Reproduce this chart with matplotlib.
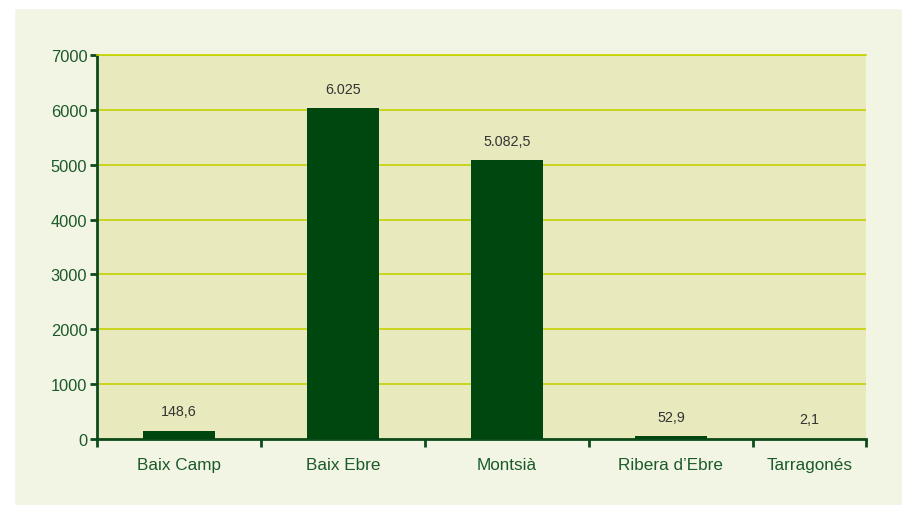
import matplotlib
matplotlib.use('Agg')
import matplotlib.pyplot as plt
from matplotlib.patches import Rectangle

# Data
comarques = ['Baix Camp', 'Baix Ebre', 'Montsià', "Ribera d’Ebre", 'Tarragonés']
valors = [148.6, 6025, 5082.5, 52.9, 2.1]
etiquetes = ['148,6', '6.025', '5.082,5', '52,9', '2,1']
yticks = [0, 1000, 2000, 3000, 4000, 5000, 6000, 7000]

plt.rcParams['font.family'] = ['Liberation Sans', 'DejaVu Sans']

green = '#00460f'
axis_green = '#0d4a1c'
text_green = '#1b5a2a'
grid_col = '#c5d200'

fig = plt.figure(figsize=(9.03, 5.06), dpi=100)
fig.patch.set_facecolor('#f3f5e4')
# white strips on left and top edges
fig.patches.append(Rectangle((0, 0), 14 / 903, 1, transform=fig.transFigure, color='white', zorder=0))
fig.patches.append(Rectangle((0, 1 - 9 / 506), 1, 9 / 506, transform=fig.transFigure, color='white', zorder=0))

ax = fig.add_axes([97 / 903, 1 - 440 / 506, (866 - 97) / 903, 384 / 506])
ax.set_facecolor('#e8e9bd')

x = list(range(len(comarques)))
ax.bar(x, valors, width=0.44, color=green, zorder=3)

right = 4.19
ax.set_xlim(-0.5, right)
ax.set_ylim(0, 7000)

# value labels
for xi, v, lab in zip(x, valors, etiquetes):
    xl = xi if xi < len(comarques) - 1 else (xi - 0.5 + right) / 2
    ax.annotate(lab, (xl, v), xytext=(0, 9), textcoords='offset points',
                ha='center', va='bottom', fontsize=10.3, color='#333333')

# grid
ax.set_yticks(yticks)
ax.yaxis.grid(True, color=grid_col, linewidth=1.2, zorder=1)
ax.set_axisbelow(True)

# x ticks on boundaries, labels centered
bounds = [i - 0.5 for i in x] + [right]
ax.set_xticks(bounds)
ax.set_xticklabels([])
centers = x[:-1] + [(x[-1] - 0.5 + right) / 2]
ax.set_xticks(centers, minor=True)
ax.set_xticklabels(comarques, minor=True)
ax.tick_params(axis='x', which='major', direction='out', length=6, width=2, color=axis_green)
ax.tick_params(axis='x', which='minor', length=0, pad=13, labelsize=12.3, labelcolor=text_green)
ax.tick_params(axis='y', direction='out', length=5, width=2, color=axis_green,
               labelsize=11.8, labelcolor=text_green, pad=2)

ax.spines['right'].set_visible(False)
ax.spines['top'].set_color(grid_col)
ax.spines['top'].set_linewidth(1.2)
for s in ['left', 'bottom']:
    ax.spines[s].set_color(axis_green)
    ax.spines[s].set_linewidth(2)

plt.savefig('out.png', dpi=100, facecolor=fig.get_facecolor())
